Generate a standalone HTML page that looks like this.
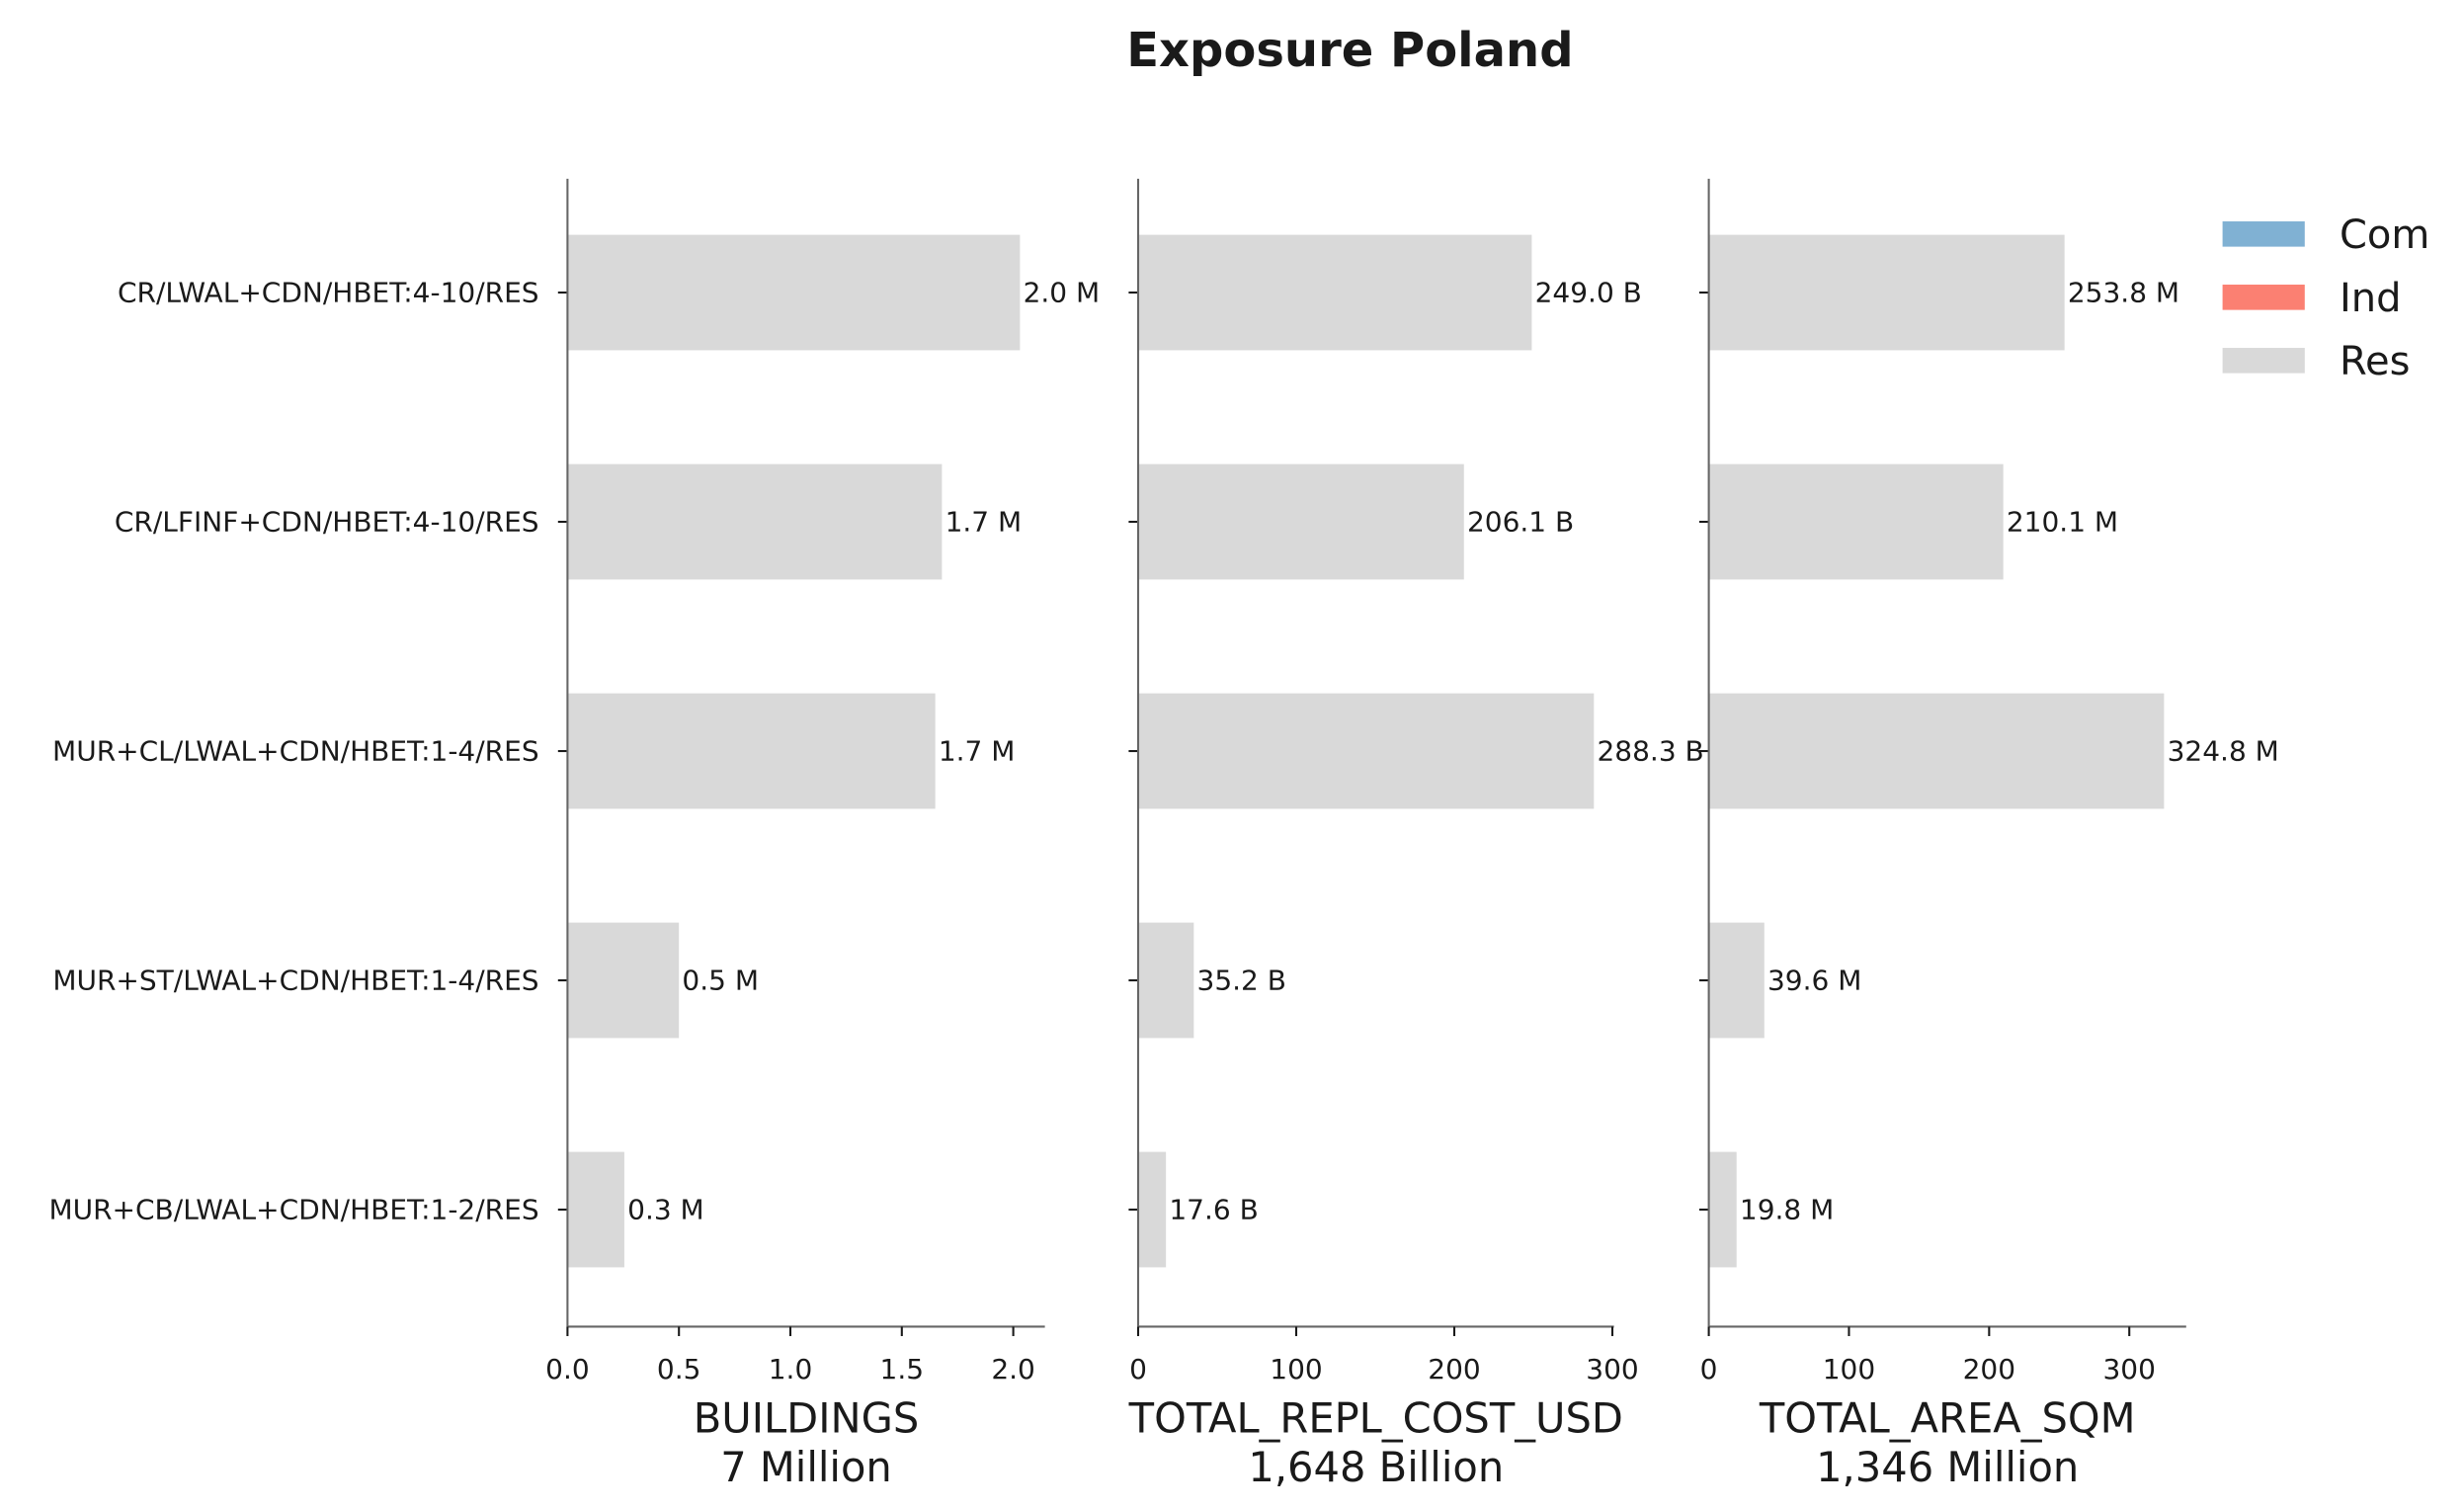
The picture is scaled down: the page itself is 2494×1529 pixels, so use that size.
<!DOCTYPE html>
<html><head><meta charset="utf-8"><style>html,body{margin:0;padding:0;background:#fff}svg{display:block}text{font-family:"DejaVu Sans","Liberation Sans",sans-serif;fill:#1a1a1a}</style></head>
<body>
<svg id="chart" width="2494" height="1529" viewBox="0 0 1558.75 955.6" xmlns="http://www.w3.org/2000/svg">
<text x="854" y="42" text-anchor="middle" font-size="30" font-weight="bold">Exposure Poland</text>
<g id="plots"></g>
<g>
<rect x="1406" y="140" width="52" height="16" fill="#80b1d3"/>
<text x="1480" y="157" font-size="25">Com</text>
<rect x="1406" y="180" width="52" height="16" fill="#fb8072"/>
<text x="1480" y="197" font-size="25">Ind</text>
<rect x="1406" y="220" width="52" height="16" fill="#d9d9d9"/>
<text x="1480" y="237" font-size="25">Res</text>
</g>
</svg>
<script>
const categories = ["CR/LWAL+CDN/HBET:4-10/RES","CR/LFINF+CDN/HBET:4-10/RES","MUR+CL/LWAL+CDN/HBET:1-4/RES","MUR+ST/LWAL+CDN/HBET:1-4/RES","MUR+CB/LWAL+CDN/HBET:1-2/RES"];
const buildings = [2.03, 1.68, 1.65, 0.50, 0.255];
const buildingsLabels = ["2.0 M","1.7 M","1.7 M","0.5 M","0.3 M"];
const cost = [249.0, 206.1, 288.3, 35.2, 17.6];
const costLabels = ["249.0 B","206.1 B","288.3 B","35.2 B","17.6 B"];
const area = [253.8, 210.1, 324.8, 39.6, 19.8];
const areaLabels = ["253.8 M","210.1 M","324.8 M","39.6 M","19.8 M"];
const ticks1 = [0, 0.5, 1.0, 1.5, 2.0];
const tickLabels1 = ["0.0","0.5","1.0","1.5","2.0"];
const ticks2 = [0, 100, 200, 300];
const tickLabels2 = ["0","100","200","300"];
const ticks3 = [0, 100, 200, 300];
const tickLabels3 = ["0","100","200","300"];
const titles = ["BUILDINGS","TOTAL_REPL_COST_USD","TOTAL_AREA_SQM"];
const totals = ["7 Million","1,648 Billion","1,346 Million"];

const NS="http://www.w3.org/2000/svg";
const root=document.getElementById('plots');
function mk(tag,attrs,parent){const e=document.createElementNS(NS,tag);for(const k in attrs)e.setAttribute(k,attrs[k]);(parent||root).appendChild(e);return e;}
const yTop=113, yBot=839;
function yPos(i){return 185+i*145;}
const panels=[
 {x0:359,x1:661,scale:141,vals:buildings,labels:buildingsLabels,ticks:ticks1,tl:tickLabels1,key:"buildings"},
 {x0:720,x1:1021,scale:1.0,vals:cost,labels:costLabels,ticks:ticks2,tl:tickLabels2,key:"cost"},
 {x0:1081,x1:1383,scale:0.8867,vals:area,labels:areaLabels,ticks:ticks3,tl:tickLabels3,key:"area"}
];
panels.forEach((p,pi)=>{
 const g=mk('g',{});
 
 
 const xs=v=>p.x0+v*p.scale;
 p.vals.forEach((v,i)=>{
  const r=mk('rect',{x:p.x0,y:yPos(i)-36.5,width:xs(v)-p.x0,height:73,fill:'#d9d9d9'},g);
  
  
  const t=mk('text',{x:xs(v)+2,y:yPos(i)+6,'font-size':17.5},g);
  t.textContent=p.labels[i];
  
  
  const tk=mk('line',{x1:p.x0-6,x2:p.x0,y1:yPos(i),y2:yPos(i),stroke:'#1a1a1a','stroke-width':1.3},g);
  
  
  if(pi===0){
   const yl=mk('text',{x:p.x0-18,y:yPos(i)+6,'font-size':17.5,'text-anchor':'end'},g);
   yl.textContent=categories[i];
   
   
  }
 });
 const ya=mk('line',{x1:p.x0,x2:p.x0,y1:yTop,y2:yBot,stroke:'#666','stroke-width':1.3},g);
 
 
 const xa=mk('line',{x1:p.x0,x2:p.x1,y1:yBot,y2:yBot,stroke:'#666','stroke-width':1.3},g);
 
 
 p.ticks.forEach((tv,ti)=>{
  const l=mk('line',{x1:xs(tv),x2:xs(tv),y1:yBot,y2:yBot+6,stroke:'#1a1a1a','stroke-width':1.3},g);
  
  
  const t=mk('text',{x:xs(tv),y:872,'font-size':17.5,'text-anchor':'middle'},g);
  t.textContent=p.tl[ti];
  
  
 });
 const cx=(p.x0+p.x1)/2;
 const t1=mk('text',{x:cx,y:906,'font-size':26,'text-anchor':'middle'},g);
 t1.textContent=titles[pi];
 
 
 const t2=mk('text',{x:cx,y:937,'font-size':26,'text-anchor':'middle'},g);
 t2.textContent=totals[pi];
 
 
});
</script>
</body></html>
